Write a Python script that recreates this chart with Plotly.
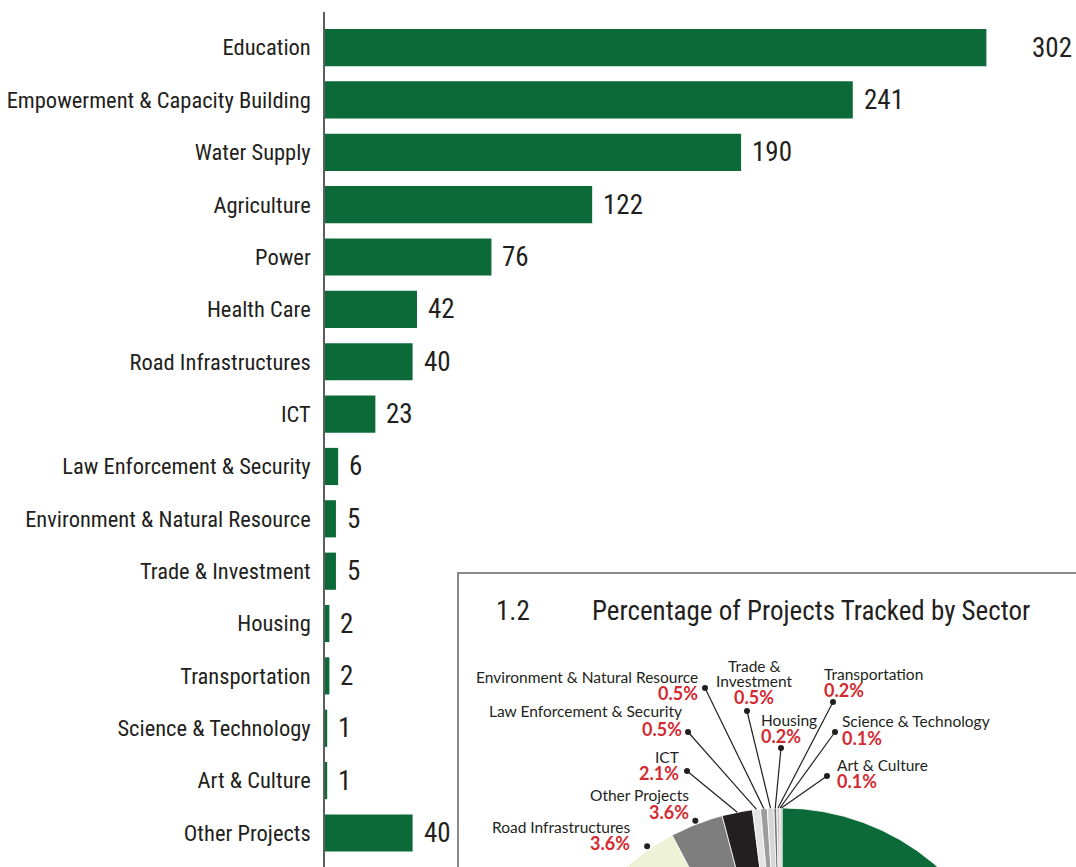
import math
import plotly.graph_objects as go

# ---- data -------------------------------------------------------------
sectors = [
    "Education", "Empowerment & Capacity Building", "Water Supply", "Agriculture",
    "Power", "Health Care", "Road Infrastructures", "ICT",
    "Law Enforcement & Security", "Environment & Natural Resource",
    "Trade & Investment", "Housing", "Transportation", "Science & Technology",
    "Art & Culture", "Other Projects",
]
projects = [302, 241, 190, 122, 76, 42, 40, 23, 6, 5, 5, 2, 2, 1, 1, 40]

# order of the wedges, clockwise from 12 o'clock
pie_order = [
    "Education", "Empowerment & Capacity Building", "Water Supply", "Agriculture",
    "Power", "Health Care", "Road Infrastructures", "Other Projects", "ICT",
    "Law Enforcement & Security", "Environment & Natural Resource",
    "Trade & Investment", "Housing", "Transportation", "Science & Technology",
    "Art & Culture",
]

# ---- styling ----------------------------------------------------------
W, H = 1076, 867
GREEN = "#0b6a38"
INK = "#231f20"
RED = "#d42a32"
PIEFONT = "Lato, Noto Sans, sans-serif"
NARROW = "Roboto Condensed, DejaVu Sans Condensed, sans-serif"

pie_colors = {
    "Education": GREEN,
    "Empowerment & Capacity Building": "#3f9a55",
    "Water Supply": "#86bb80",
    "Agriculture": "#b9d693",
    "Power": "#5c5c5c",
    "Health Care": "#d3e3ad",
    "Road Infrastructures": "#eef2d6",
    "Other Projects": "#7e7e7e",
    "ICT": "#231f20",
    "Law Enforcement & Security": "#e4e4e4",
    "Environment & Natural Resource": "#9c9c9c",
    "Trade & Investment": "#d6d6d6",
    "Housing": "#6e6e6e",
    "Transportation": "#c4c4c4",
    "Science & Technology": "#4d4d4d",
    "Art & Culture": "#ababab",
}

# page layout (pixels)
ML, MT = 325, 12                 # bar plot area origin
PX_PER_UNIT = 2.19               # bar length scale
PIE_CX, PIE_CY, PIE_R = 782, 1043, 235

# label placement for the pie: anchor x, name y, percent y, alignment, dot
pie_labels = {
    "Environment & Natural Resource": dict(x=700, ny=[677], py=693, align="right", dot=(705, 688)),
    "Law Enforcement & Security": dict(x=684, ny=[711], py=729, align="right", dot=(688, 732)),
    "ICT": dict(x=681, ny=[757], py=773, align="right", dot=(687, 771)),
    "Trade & Investment": dict(x=754, ny=[666, 681], py=697, align="center", dot=(747, 711)),
    "Housing": dict(x=759, ny=[720], py=736, align="left", dot=(781, 748)),
    "Transportation": dict(x=822, ny=[674], py=690, align="left", dot=(833, 702)),
    "Science & Technology": dict(x=840, ny=[721], py=738, align="left", dot=(835, 732)),
    "Art & Culture": dict(x=835, ny=[765], py=781, align="left", dot=(827, 776)),
    "Other Projects": dict(x=691, ny=[795], py=812, align="right", dot=None),
    "Road Infrastructures": dict(x=632, ny=[827], py=843, align="right", dot=None),
}
name_lines = {"Trade & Investment": ["Trade &", "Investment"]}

# ---- figure -----------------------------------------------------------
fig = go.Figure()

fig.add_trace(go.Bar(
    x=projects, y=sectors, orientation="h",
    marker=dict(color=GREEN, line=dict(width=0)),
    hoverinfo="x+y", xaxis="x", yaxis="y",
))

annotations = []
for name, val in zip(sectors, projects):
    annotations.append(dict(
        x=val, y=name, xref="x", yref="y", text=str(val), showarrow=False,
        xanchor="left", yanchor="middle", xshift=44 if val == max(projects) else 9,
        font=dict(family=NARROW, size=27, color=INK),
    ))

# pie geometry in units of the pie radius
def to_pie(px, py):
    return (px - PIE_CX) / PIE_R, (PIE_CY - py) / PIE_R

values = dict(zip(sectors, projects))
total = sum(projects)
start = 0.0
mid_angle = {}
for name in pie_order:
    share = values[name] / total
    a0, a1 = start * 2 * math.pi, (start + share) * 2 * math.pi
    n = max(8, int(share * 720))
    xs, ys = [0.0], [0.0]
    for k in range(n + 1):
        t = a0 + (a1 - a0) * k / n
        xs.append(math.sin(t))
        ys.append(math.cos(t))
    xs.append(0.0)
    ys.append(0.0)
    fig.add_trace(go.Scatter(
        x=xs, y=ys, mode="lines", fill="toself",
        fillcolor=pie_colors[name], line=dict(color="white", width=0.8),
        name=name, hoverinfo="name", xaxis="x2", yaxis="y2",
    ))
    mid_angle[name] = (a0 + a1) / 2
    start += share

# leaders, dots and labels
for name, spec in pie_labels.items():
    pct = f"{values[name] / total * 100:.1f}%"
    ang = mid_angle[name]
    if spec["dot"] is not None:
        dx, dy = to_pie(*spec["dot"])
        fig.add_trace(go.Scatter(
            x=[dx, math.sin(ang)], y=[dy, math.cos(ang)], mode="lines",
            line=dict(color=INK, width=1.2), hoverinfo="skip",
            xaxis="x2", yaxis="y2",
        ))
    else:
        dx, dy = math.sin(ang) * 1.015, math.cos(ang) * 1.015
    fig.add_trace(go.Scatter(
        x=[dx], y=[dy], mode="markers",
        marker=dict(color=INK, size=6), hoverinfo="skip",
        xaxis="x2", yaxis="y2",
    ))
    anchor = spec["align"]
    lines = name_lines.get(name, [name])
    for text, ly in zip(lines, spec["ny"]):
        ax, ay = to_pie(spec["x"], ly)
        annotations.append(dict(
            x=ax, y=ay, xref="x2", yref="y2", text=text, showarrow=False,
            xanchor=anchor, yanchor="middle",
            font=dict(family=PIEFONT, size=15.5, color=INK),
        ))
    ax, ay = to_pie(spec["x"], spec["py"])
    annotations.append(dict(
        x=ax, y=ay, xref="x2", yref="y2", text=f"<b>{pct}</b>", showarrow=False,
        xanchor=anchor, yanchor="middle",
        font=dict(family=PIEFONT, size=18, color=RED),
    ))

# inset heading
for text, lx in (("1.2", 494), ("Percentage of Projects Tracked by Sector", 590)):
    ax, ay = to_pie(lx, 611)
    annotations.append(dict(
        x=ax, y=ay, xref="x2", yref="y2", text=text, showarrow=False,
        xanchor="left", yanchor="middle",
        font=dict(family=NARROW, size=27, color=INK),
    ))

# inset frame
bx0, by0 = to_pie(458, 573)
bx1, by1 = to_pie(W + 20, H + 20)
shapes = [dict(
    type="rect", xref="x2", yref="y2", x0=bx0, y0=by1, x1=bx1, y1=by0,
    line=dict(color="#8a8a8a", width=2), fillcolor="rgba(0,0,0,0)", layer="below",
)]

n = len(sectors)
plot_w = W - ML
x2_lo, y2_hi = to_pie(ML, MT)
x2_hi, y2_lo = to_pie(W, H)

fig.update_layout(
    width=W, height=H,
    margin=dict(l=ML, r=0, t=MT, b=0, pad=0, autoexpand=False),
    paper_bgcolor="white", plot_bgcolor="rgba(0,0,0,0)",
    showlegend=False, bargap=0.29,
    xaxis=dict(range=[0, plot_w / PX_PER_UNIT], visible=False, fixedrange=True,
               domain=[0, 1], automargin=False),
    yaxis=dict(type="category", categoryorder="array", categoryarray=sectors,
               range=[n - 1 + 0.65, -0.68], showline=True, linecolor="#5e5e5e",
               linewidth=1.5, ticks="", showgrid=False, zeroline=False,
               ticklabelstandoff=8, automargin=False,
               tickfont=dict(family=NARROW, size=22.5, color=INK),
               fixedrange=True),
    xaxis2=dict(range=[x2_lo, x2_hi], visible=False, fixedrange=True,
                domain=[0, 1], anchor="y2", automargin=False),
    yaxis2=dict(range=[y2_lo, y2_hi], visible=False, fixedrange=True,
                domain=[0, 1], anchor="x2", automargin=False),
    annotations=annotations,
    shapes=shapes,
)

fig.write_html("out.html")
